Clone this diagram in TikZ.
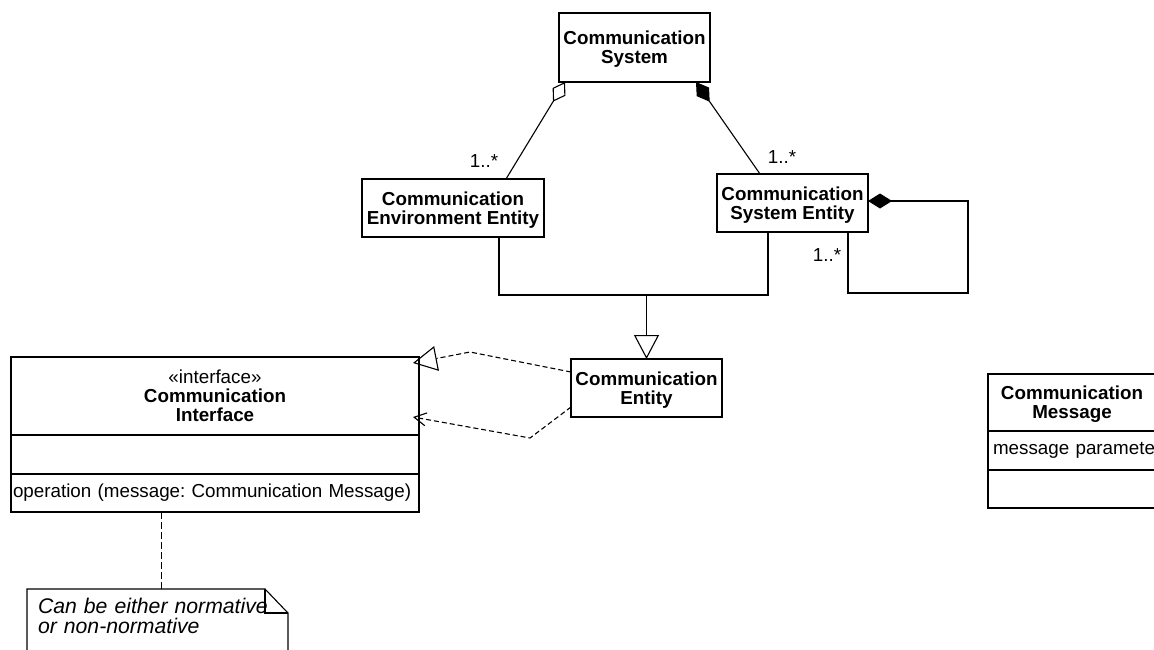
\documentclass[tikz,border=0pt]{standalone}
\usepackage{fontspec}
\setmainfont{Liberation Sans}
\usepackage{tikz}
\usetikzlibrary{arrows.meta, positioning, calc}
\frenchspacing

\begin{document}
\begin{tikzpicture}[x=0.5pt, y=-0.5pt, line width=0.55pt,
    cls/.style={draw, fill=white, align=center, inner sep=1pt, outer sep=0pt, text depth=0pt,
        font=\fontsize{9.4}{9.5}\selectfont\bfseries, minimum width=75.5pt, minimum height=29pt},
    compart/.style={draw, fill=white, align=left, inner xsep=1pt, inner ysep=0pt, outer sep=0pt,
        font=\fontsize{9.4}{9.5}\selectfont},
    mult/.style={font=\fontsize{9.4}{9.5}\selectfont, inner sep=0pt},
    notebox/.style={align=left, text width=119.5pt, inner xsep=5.5pt, inner ysep=4.4pt, outer sep=0pt,
        font=\fontsize{10.6}{10}\selectfont\itshape},
    aggr/.style={{Diamond[open, length=11.5pt, width=7.5pt]}-},
    comp/.style={{Diamond[length=12pt, width=7.5pt]}-},
    gen/.style={-{Triangle[open, length=12pt, width=12.5pt]}},
    realize/.style={dash pattern=on 2.5pt off 1.5pt, -{Triangle[open, length=12pt, width=12.5pt]}},
    depend/.style={dash pattern=on 2.5pt off 1.5pt, -{Straight Barb[length=6pt, width=6.5pt]}},
    notelink/.style={dash pattern=on 3.5pt off 1.5pt}]

    \useasboundingbox (0,0) rectangle (1154,649);
    \clip (0,0) rectangle (1154,649);

    % classes
    \node[cls, minimum height=34.5pt] (ComSys) at (634.5,47.5) {Communication\\System};
    \node[cls, minimum width=91pt] (EnvEnt) at (453,208) {Communication\\Environment Entity};
    \node[cls] (SysEnt) at (792.5,203) {Communication\\System Entity};
    \node[cls] (ComEnt) at (646.5,388) {Communication\\Entity};

    % interface with its compartments
    \node[cls, minimum width=204pt, minimum height=39pt, anchor=north west] (Iface) at (11,357)
        {{\mdseries «interface»}\\Communication\\Interface};
    \node[compart, minimum width=204pt, minimum height=19.5pt, below=0pt of Iface] (IfaceAttr) {};
    \node[compart, minimum width=204pt, minimum height=19pt, text width=202pt, below=0pt of IfaceAttr] (IfaceOps)
        {operation (message: Communication Message)};

    % message class, cut by the right border
    \node[cls, minimum width=84pt, minimum height=28.5pt, anchor=north west] (Msg) at (988,374) {Communication\\Message};
    \node[compart, minimum width=84pt, minimum height=19.5pt, text width=79pt, inner xsep=2.5pt, below=0pt of Msg] (MsgAttr)
        {\mbox{message parameters}};
    \node[compart, minimum width=84pt, minimum height=19pt, below=0pt of MsgAttr] (MsgOps) {};

    % note
    \node[notebox, anchor=north west] (Note) at (27,589) {Can be either normative\\or non-normative};
    \draw ([yshift=-30pt]Note.south west) -- (Note.north west) -- ([xshift=-11.5pt]Note.north east)
        -- ([yshift=-12pt]Note.north east) -- ([yshift=-30pt]Note.south east);
    \draw ([xshift=-11.5pt]Note.north east) |- ([yshift=-12pt]Note.north east);

    % multiplicities
    \node[mult] (MultEnv) at (484,161) {1..*};
    \node[mult] (MultSys) at (782,157) {1..*};
    \node[mult] (MultSelf) at (827,255) {1..*};

    \coordinate (Join) at (646.5,295);
    \coordinate (RealBend) at (470,352);
    \coordinate (DepBend) at (530,438);

    % associations
    \draw[aggr] ([xshift=3pt]ComSys.south west) -- ([xshift=-19pt]EnvEnt.north east);
    \draw[comp] ([xshift=-7pt]ComSys.south east) -- ([xshift=21.5pt]SysEnt.north west);
    \draw[comp] ([yshift=1pt]SysEnt.east) -- ++(100,0) -- ++(0,92) -| ([xshift=-10pt]SysEnt.south east);

    % generalization
    \draw ([xshift=23pt]EnvEnt.south) |- (Join) -| ([xshift=-12.25pt]SysEnt.south);
    \draw[gen] (Join) -- (ComEnt.north);

    % realization and dependency
    \draw[realize] ([yshift=8pt]ComEnt.west) -- (RealBend) -- ([xshift=-3pt, yshift=-3pt]Iface.north east);
    \draw[depend] ([yshift=-9.5pt]ComEnt.west) -- (DepBend) -- ([xshift=-3pt, yshift=-10.5pt]Iface.east);

    % note link
    \draw[notelink] ([xshift=2pt]Note.north) -- ([xshift=2pt]Note.north |- IfaceOps.south);
\end{tikzpicture}
\end{document}
